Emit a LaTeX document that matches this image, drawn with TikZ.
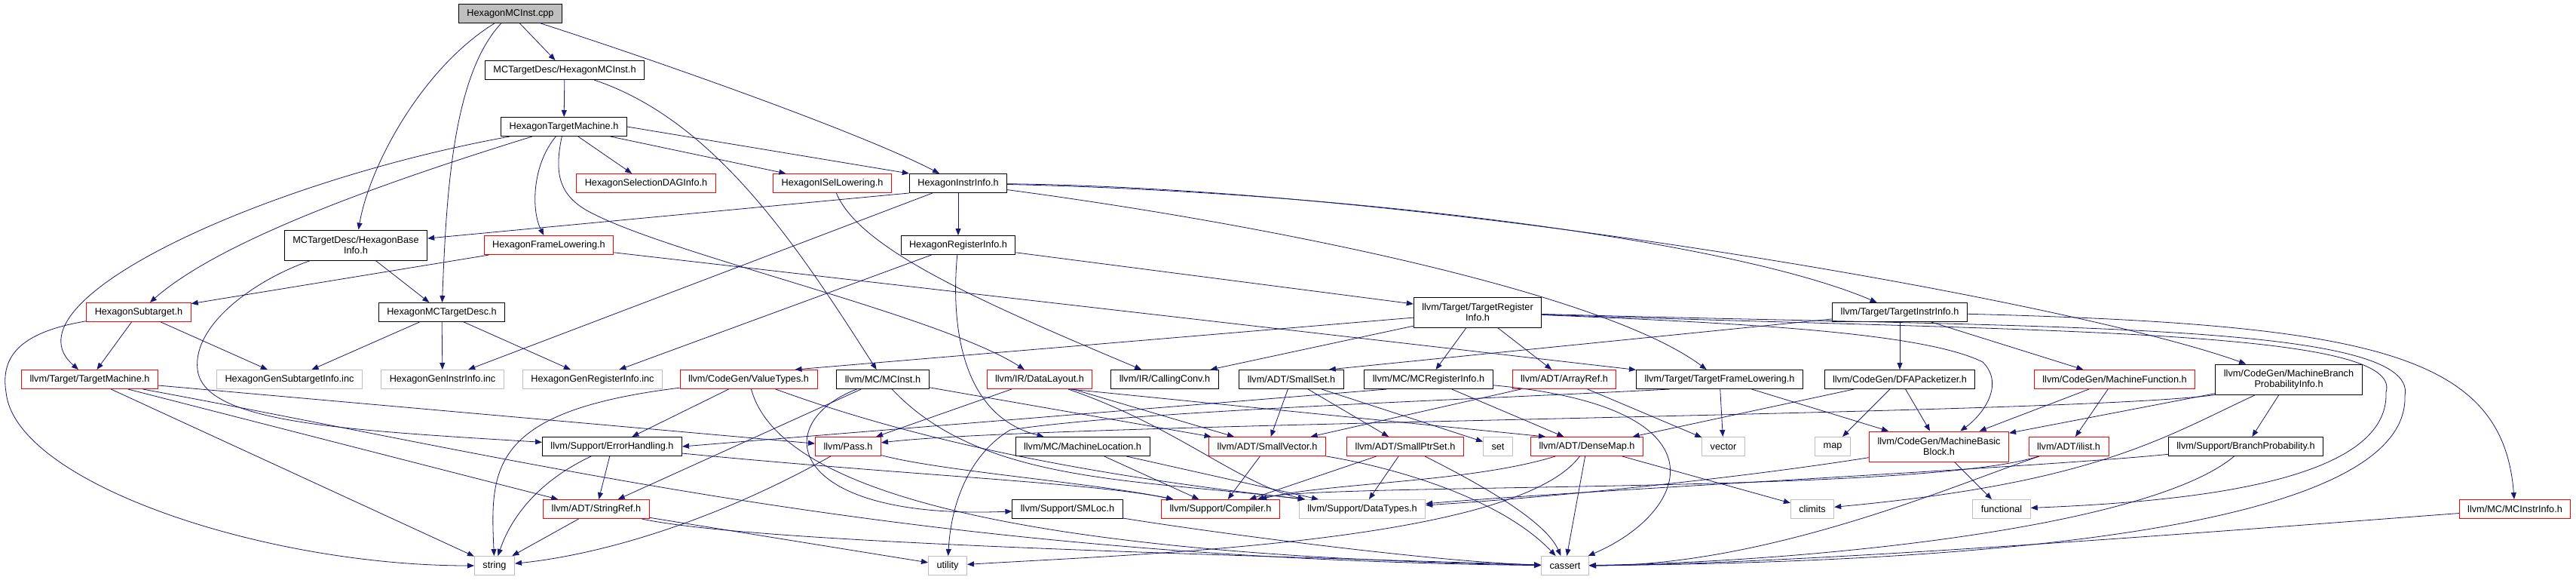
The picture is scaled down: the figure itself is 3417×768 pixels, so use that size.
\documentclass[tikz,border=0pt]{standalone}
\usepackage{fontspec}
\setmainfont{Liberation Sans}
\usetikzlibrary{arrows.meta}
\definecolor{edgeblue}{HTML}{191970}
\definecolor{grey75}{HTML}{BFBFBF}

\begin{document}
\begin{tikzpicture}[
    x=1pt, y=-1pt,
    every node/.style={font=\fontsize{12.7}{14.5}\selectfont},
    docbox/.style={rectangle, draw=black, line width=1pt, fill=white,
                   minimum height=25pt, inner xsep=11pt, inner ysep=2pt, align=center},
    truncbox/.style={docbox, draw=red},
    sysbox/.style={docbox, draw=grey75},
    rootbox/.style={docbox, fill=grey75},
    tall/.style={minimum height=40pt},
    dep/.style={-{Triangle[length=9pt,width=7pt]}, edgeblue, line width=0.8pt},
]
\useasboundingbox (0,0) rectangle (3417,768);

\node[rootbox] (cpp) at (677,18) {HexagonMCInst.cpp};
\node[docbox] (mcinsth) at (749,93) {MCTargetDesc/HexagonMCInst.h};
\node[docbox] (htm) at (748,168) {HexagonTargetMachine.h};
\node[truncbox] (dag) at (857,243) {HexagonSelectionDAGInfo.h};
\node[truncbox] (isel) at (1104,243) {HexagonISelLowering.h};
\node[docbox] (hii) at (1271,243) {HexagonInstrInfo.h};
\node[docbox, tall] (hbi) at (472,325) {MCTargetDesc/HexagonBase\\Info.h};
\node[truncbox] (hfl) at (728,325) {HexagonFrameLowering.h};
\node[docbox] (hri) at (1271,325) {HexagonRegisterInfo.h};
\node[truncbox] (hst) at (184,414) {HexagonSubtarget.h};
\node[docbox] (hmctd) at (586,414) {HexagonMCTargetDesc.h};
\node[docbox, tall] (tri) at (1960,414) {llvm/Target/TargetRegister\\Info.h};
\node[docbox] (tii) at (2520,414) {llvm/Target/TargetInstrInfo.h};
\node[truncbox] (tm) at (119,503) {llvm/Target/TargetMachine.h};
\node[sysbox] (gsub) at (384,503) {HexagonGenSubtargetInfo.inc};
\node[sysbox] (ginst) at (587,503) {HexagonGenInstrInfo.inc};
\node[sysbox] (greg) at (786,503) {HexagonGenRegisterInfo.inc};
\node[truncbox] (vt) at (993,503) {llvm/CodeGen/ValueTypes.h};
\node[docbox] (mcinst) at (1171,503) {llvm/MC/MCInst.h};
\node[truncbox] (dl) at (1379,503) {llvm/IR/DataLayout.h};
\node[docbox] (cc) at (1545,503) {llvm/IR/CallingConv.h};
\node[docbox] (sset) at (1713,503) {llvm/ADT/SmallSet.h};
\node[docbox] (mcri) at (1895,503) {llvm/MC/MCRegisterInfo.h};
\node[truncbox] (aref) at (2075,503) {llvm/ADT/ArrayRef.h};
\node[docbox] (tfl) at (2281,503) {llvm/Target/TargetFrameLowering.h};
\node[docbox] (dfa) at (2520,503) {llvm/CodeGen/DFAPacketizer.h};
\node[truncbox] (mf) at (2805,503) {llvm/CodeGen/MachineFunction.h};
\node[docbox, tall] (mbpi) at (3036,503) {llvm/CodeGen/MachineBranch\\ProbabilityInfo.h};
\node[docbox] (eh) at (812,592) {llvm/Support/ErrorHandling.h};
\node[truncbox] (pass) at (1125,592) {llvm/Pass.h};
\node[docbox] (mloc) at (1436,592) {llvm/MC/MachineLocation.h};
\node[truncbox] (svec) at (1681,592) {llvm/ADT/SmallVector.h};
\node[truncbox] (sptr) at (1864,592) {llvm/ADT/SmallPtrSet.h};
\node[sysbox] (stdset) at (1987,592) {set};
\node[truncbox] (dmap) at (2105,592) {llvm/ADT/DenseMap.h};
\node[sysbox] (stdvector) at (2286,592) {vector};
\node[sysbox] (stdmap) at (2431,592) {map};
\node[truncbox, tall] (mbb) at (2572,592) {llvm/CodeGen/MachineBasic\\Block.h};
\node[truncbox] (ilist) at (2744,592) {llvm/ADT/ilist.h};
\node[docbox] (bp) at (2979,592) {llvm/Support/BranchProbability.h};
\node[truncbox] (sref) at (791,675) {llvm/ADT/StringRef.h};
\node[docbox] (smloc) at (1416,675) {llvm/Support/SMLoc.h};
\node[truncbox] (comp) at (1619,675) {llvm/Support/Compiler.h};
\node[sysbox] (dtypes) at (1807,675) {llvm/Support/DataTypes.h};
\node[sysbox] (stdclimits) at (2404,675) {climits};
\node[sysbox] (stdfunctional) at (2655,675) {functional};
\node[truncbox] (mcii) at (3336,675) {llvm/MC/MCInstrInfo.h};
\node[sysbox] (stdstring) at (656,750) {string};
\node[sysbox] (stdutility) at (1257,750) {utility};
\node[sysbox] (stdcassert) at (2076,750) {cassert};

\draw[dep] (cpp) -- (mcinsth);
\draw[dep] (cpp) .. controls (560,90) and (490,220) .. (hbi);
\draw[dep] (cpp) .. controls (600,100) and (592,260) .. (hmctd);
\draw[dep] (cpp) .. controls (900,90) and (1150,180) .. (hii);

\draw[dep] (mcinsth) -- (htm);
\draw[dep] (mcinsth) .. controls (950,160) and (1060,330) .. (mcinst);

\draw[dep] (htm) -- (dag);
\draw[dep] (htm) -- (isel);
\draw[dep] (htm.east) -- (hii.north west);
\draw[dep] (htm) .. controls (705,220) and (705,280) .. (hfl);
\draw[dep] (htm) .. controls (735,230) and (740,262) .. (790,285) .. controls (900,340) and (1250,420) .. (dl);
\draw[dep] (htm) .. controls (450,260) and (280,330) .. (hst);
\draw[dep] (htm) .. controls (350,240) and (0,400) .. (tm);

\draw[dep] (isel) .. controls (1140,330) and (1300,400) .. (cc);

\draw[dep] (hii) -- (hri);
\draw[dep] (hii.south west) -- (hbi);
\draw[dep] (hii) -- (ginst);
\draw[dep] (hii) .. controls (1900,250) and (2750,400) .. (mbpi);
\draw[dep] (hii) .. controls (1800,255) and (2300,320) .. (tii);
\draw[dep] (hii) .. controls (1700,300) and (2130,390) .. (tfl);

\draw[dep] (hri) -- (greg);
\draw[dep] (hri) .. controls (1262,420) and (1270,550) .. (mloc);
\draw[dep] (hri) -- (tri);

\draw[dep] (hfl) -- (hst);
\draw[dep] (hfl) -- (tfl);

\draw[dep] (hbi) -- (hmctd);
\draw[dep] (hbi) .. controls (340,370) and (255,430) .. (262,490) .. controls (270,560) and (450,570) .. (eh);

\draw[dep] (hst) -- (tm);
\draw[dep] (hst) -- (gsub);
\draw[dep] (hst) .. controls (30,440) and (0,470) .. (8,520) .. controls (20,640) and (350,750) .. (stdstring);

\draw[dep] (hmctd) -- (gsub);
\draw[dep] (hmctd) -- (ginst);
\draw[dep] (hmctd) -- (greg);

\draw[dep] (tri) -- (mcri);
\draw[dep] (tri) -- (aref);
\draw[dep] (tri) -- (cc);
\draw[dep] (tri) -- ([xshift=-30pt]vt.north east);
\draw[dep] (tri) .. controls (2300,428) and (2550,440) .. (2630,480) .. controls (2660,510) and (2630,550) .. (mbb);
\draw[dep] (tri) .. controls (2700,440) and (3190,435) .. (3165,520) .. controls (3170,640) and (2900,665) .. (stdfunctional);
\draw[dep] (tri) .. controls (2700,435) and (3210,425) .. (3190,525) .. controls (3195,690) and (2700,745) .. (stdcassert);

\draw[dep] (tii) -- (dfa);
\draw[dep] (tii) -- (mf);
\draw[dep] (tii) -- ([xshift=-20pt]sset.north east);
\draw[dep] (tii) .. controls (3150,430) and (3320,470) .. (mcii);

\draw[dep] (tm) -- (stdstring);
\draw[dep] (tm) -- (sref);
\draw[dep] (tm) -- (pass);
\draw[dep] (tm) .. controls (700,610) and (1200,740) .. (stdcassert);

\draw[dep] (vt) .. controls (650,545) and (650,620) .. (stdstring);
\draw[dep] (vt) -- (eh);
\draw[dep] (vt) .. controls (1030,640) and (1300,735) .. (stdcassert);
\draw[dep] (vt) .. controls (1150,560) and (1350,620) .. ([xshift=8pt]dtypes.north west);

\draw[dep] (mcinst) -- (sref);
\draw[dep] (mcinst) .. controls (1020,560) and (1040,690) .. (smloc);
\draw[dep] (mcinst) -- (svec);
\draw[dep] (mcinst) .. controls (1300,640) and (1500,635) .. ([xshift=8pt]dtypes.north west);

\draw[dep] (dl) -- (pass);
\draw[dep] (dl) -- (svec);
\draw[dep] (dl) .. controls (1560,565) and (1640,640) .. ([xshift=8pt]dtypes.north west);
\draw[dep] ([xshift=-30pt]dl.south east) -- ([xshift=20pt]dmap.north west);

\draw[dep] (sset) -- (svec);
\draw[dep] (sset) -- (sptr);
\draw[dep] (sset) -- (stdset);

\draw[dep] (mcri) -- (dmap);
\draw[dep] (mcri) .. controls (2300,540) and (2240,680) .. (stdcassert);
\draw[dep] ([xshift=30pt]mcri.south west) -- (eh.east);

\draw[dep] (aref) -- (svec);
\draw[dep] (aref) -- (stdvector);

\draw[dep] (tfl) -- (mbb);
\draw[dep] (tfl) -- (stdvector);
\draw[dep] ([xshift=45pt]tfl.south west) .. controls (1950,530) and (1500,545) .. (1340,570) .. controls (1290,600) and (1262,660) .. (stdutility);

\draw[dep] (dfa) -- (stdmap);
\draw[dep] (dfa) -- (mbb);
\draw[dep] (dfa) -- (dmap);

\draw[dep] (mf) -- (mbb);
\draw[dep] (mf) -- (ilist);

\draw[dep] (mbpi) -- (mbb);
\draw[dep] (mbpi.south west) .. controls (2750,550) and (1400,560) .. (pass);
\draw[dep] (mbpi) -- (bp);
\draw[dep] (mbpi) .. controls (2870,580) and (2780,640) .. (stdclimits);

\draw[dep] (eh) -- (sref);
\draw[dep] (eh) .. controls (720,635) and (680,680) .. (stdstring);
\draw[dep] (eh) .. controls (1200,630) and (1450,640) .. (comp);

\draw[dep] (pass) .. controls (950,690) and (800,735) .. (stdstring);
\draw[dep] (pass) .. controls (1250,625) and (1450,640) .. (comp);

\draw[dep] (mloc) -- (comp);
\draw[dep] (mloc) -- (dtypes);

\draw[dep] (svec) -- (comp);
\draw[dep] (svec) .. controls (1850,620) and (1990,660) .. (stdcassert);

\draw[dep] (sptr) -- (comp);
\draw[dep] (sptr) -- (dtypes);
\draw[dep] (sptr) .. controls (1960,640) and (2050,690) .. (stdcassert);

\draw[dep] (dmap) .. controls (1950,640) and (1760,640) .. (comp);
\draw[dep] (dmap) -- (stdcassert);
\draw[dep] (dmap) .. controls (2010,720) and (1500,735) .. (stdutility);
\draw[dep] (dmap) -- (stdclimits);

\draw[dep] (mbb) -- (stdfunctional);
\draw[dep] (mbb) .. controls (2300,635) and (2050,660) .. (dtypes);

\draw[dep] (ilist) .. controls (2550,655) and (1750,640) .. (comp);
\draw[dep] (ilist) .. controls (2600,640) and (2350,750) .. (stdcassert);

\draw[dep] (bp) .. controls (2700,620) and (2100,650) .. (dtypes);
\draw[dep] (bp) .. controls (2850,700) and (2400,745) .. (stdcassert);

\draw[dep] (sref) -- (stdstring);
\draw[dep] (sref) -- (stdutility);
\draw[dep] (sref) .. controls (1000,720) and (1600,735) .. (stdcassert);

\draw[dep] (smloc) .. controls (1600,705) and (1900,745) .. (stdcassert);

\draw[dep] (mcii) .. controls (3000,700) and (2400,748) .. (stdcassert);
\end{tikzpicture}
\end{document}
